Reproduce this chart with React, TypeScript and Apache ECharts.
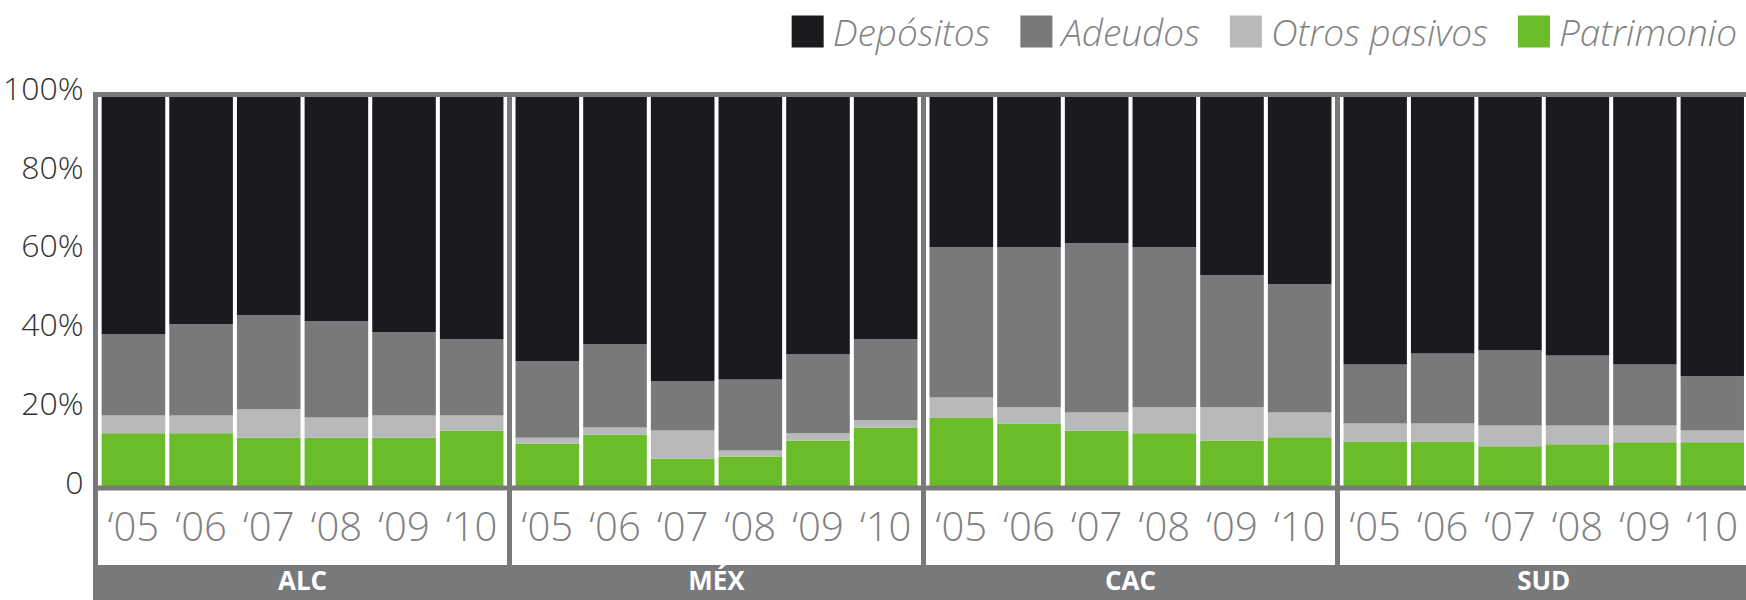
import React, { useEffect, useRef } from 'react';
import * as echarts from 'echarts';

const years = ['‘05', '‘06', '‘07', '‘08', '‘09', '‘10'];
const regions = ['ALC', 'MÉX', 'CAC', 'SUD'];
const seriesNames = ['Depósitos', 'Adeudos', 'Otros pasivos', 'Patrimonio'];
const yTickLabels = ['0', '20%', '40%', '60%', '80%', '100%'];

const alcDepositos = [60.9, 58.4, 56.1, 57.6, 60.4, 62.2];
const alcAdeudos = [20.7, 23.2, 23.9, 24.5, 21.2, 19.4];
const alcOtros = [4.5, 4.5, 7.2, 5.1, 5.6, 3.8];
const alcPatrimonio = [13.9, 13.9, 12.8, 12.8, 12.8, 14.6];

const mexDepositos = [67.8, 63.5, 72.9, 72.4, 66.0, 62.2];
const mexAdeudos = [19.4, 21.1, 12.5, 18.1, 20.1, 20.6];
const mexOtros = [1.5, 1.8, 7.1, 1.5, 1.8, 1.8];
const mexPatrimonio = [11.3, 13.6, 7.5, 8.0, 12.1, 15.4];

const cacDepositos = [38.8, 38.8, 37.8, 38.8, 45.9, 48.2];
const cacAdeudos = [38.2, 40.7, 43.0, 40.7, 33.6, 32.6];
const cacOtros = [5.1, 4.1, 4.6, 6.6, 8.4, 6.3];
const cacPatrimonio = [17.9, 16.4, 14.6, 13.9, 12.1, 12.9];

const sudDepositos = [68.6, 65.8, 65.0, 66.3, 68.6, 71.6];
const sudAdeudos = [15.0, 17.8, 19.1, 17.8, 15.5, 13.8];
const sudOtros = [4.6, 4.6, 5.3, 4.8, 4.3, 3.0];
const sudPatrimonio = [11.8, 11.8, 10.6, 11.1, 11.6, 11.6];

const depositos = [alcDepositos, mexDepositos, cacDepositos, sudDepositos];
const adeudos = [alcAdeudos, mexAdeudos, cacAdeudos, sudAdeudos];
const otros = [alcOtros, mexOtros, cacOtros, sudOtros];
const patrimonio = [alcPatrimonio, mexPatrimonio, cacPatrimonio, sudPatrimonio];

const W = 1746;
const H = 600;
const FONT = "'Open Sans', 'DejaVu Sans', sans-serif";
const C_DEP = '#1b1a1e';
const C_ADE = '#78797b';
const C_OTR = '#b8b9bb';
const C_PAT = '#6abd28';
const C_FRAME = '#78797b';

const FRAME_X = 93;
const GROUP_W = 414;
const LINE = 5;
const TOP_Y = 92;
const BASE_Y = 485.5;
const BAND_Y = 565;
const PLOT_TOP = 94.5;
const PLOT_H = 393.5;
const INSET = 1.5;

export default function App() {
  const ref = useRef<HTMLDivElement>(null);

  useEffect(() => {
    if (!ref.current) return;
    document.body.style.margin = '0';
    const chart = echarts.init(ref.current, undefined, { renderer: 'svg' });

    const grids: any[] = [];
    const xAxes: any[] = [];
    const yAxes: any[] = [];
    const series: any[] = [];

    regions.forEach((region, k) => {
      grids.push({
        left: FRAME_X + LINE + INSET + k * GROUP_W,
        top: PLOT_TOP,
        width: GROUP_W - LINE - 2 * INSET,
        height: PLOT_H,
        containLabel: false,
      });
      xAxes.push({
        type: 'category',
        gridIndex: k,
        data: years,
        axisLine: { show: false },
        axisTick: { show: false },
        axisLabel: {
          margin: 17,
          fontSize: 40,
          fontWeight: 300,
          fontFamily: FONT,
          color: '#808082',
        },
      });
      xAxes.push({
        type: 'category',
        gridIndex: k,
        data: [region],
        position: 'bottom',
        offset: 71,
        z: 300,
        axisLine: { show: false },
        axisTick: { show: false },
        axisLabel: {
          margin: 8,
          fontSize: 26,
          lineHeight: 26,
          fontWeight: 'bold',
          fontFamily: FONT,
          color: '#ffffff',
        },
      });
      yAxes.push({
        type: 'value',
        gridIndex: k,
        min: 0,
        max: 100,
        interval: 20,
        splitLine: { show: false },
        axisLine: { show: false },
        axisTick: { show: false },
        axisLabel: {
          show: k === 0,
          margin: 16,
          fontSize: 32,
          fontWeight: 300,
          fontFamily: FONT,
          color: '#333333',
          verticalAlign: 'bottom',
          lineHeight: 14,
          formatter: (v: number) => yTickLabels[Math.round(v / 20)],
        },
      });
      const layers = [
        { name: 'Patrimonio', data: patrimonio[k], color: C_PAT },
        { name: 'Otros pasivos', data: otros[k], color: C_OTR },
        { name: 'Adeudos', data: adeudos[k], color: C_ADE },
        { name: 'Depósitos', data: depositos[k], color: C_DEP },
      ];
      layers.forEach((l) => {
        series.push({
          type: 'bar',
          name: l.name,
          stack: 'g' + k,
          xAxisIndex: 2 * k,
          yAxisIndex: k,
          data: l.data,
          barWidth: '94%',
          itemStyle: { color: l.color },
          emphasis: { disabled: true },
        });
      });
    });

    const graphics: any[] = [
      { type: 'rect', z: 100, shape: { x: FRAME_X, y: TOP_Y, width: W - FRAME_X, height: LINE }, style: { fill: C_FRAME } },
      { type: 'rect', z: 100, shape: { x: FRAME_X, y: BASE_Y, width: W - FRAME_X, height: LINE }, style: { fill: C_FRAME } },
      { type: 'rect', z: -10, shape: { x: FRAME_X, y: BAND_Y, width: W - FRAME_X, height: H - BAND_Y }, style: { fill: C_FRAME } },
    ];
    for (let k = 0; k <= regions.length; k++) {
      graphics.push({
        type: 'rect',
        z: 100,
        shape: { x: FRAME_X + k * GROUP_W, y: TOP_Y, width: LINE, height: BAND_Y - TOP_Y },
        style: { fill: C_FRAME },
      });
    }

    chart.setOption({
      animation: false,
      backgroundColor: '#ffffff',
      legend: {
        data: seriesNames,
        top: 8,
        right: 4,
        itemWidth: 32,
        itemHeight: 32,
        itemGap: 30,
        icon: 'rect',
        selectedMode: false,
        textStyle: {
          fontSize: 37,
          fontStyle: 'italic',
          fontWeight: 300,
          fontFamily: FONT,
          color: '#838385',
          padding: [0, 0, 0, 4],
        },
      },
      grid: grids,
      xAxis: xAxes,
      yAxis: yAxes,
      series,
      graphic: graphics,
    });

    return () => {
      chart.dispose();
    };
  }, []);

  return (
    <div
      ref={ref}
      style={{ position: 'fixed', left: 0, top: 0, width: W, height: H }}
    />
  );
}
